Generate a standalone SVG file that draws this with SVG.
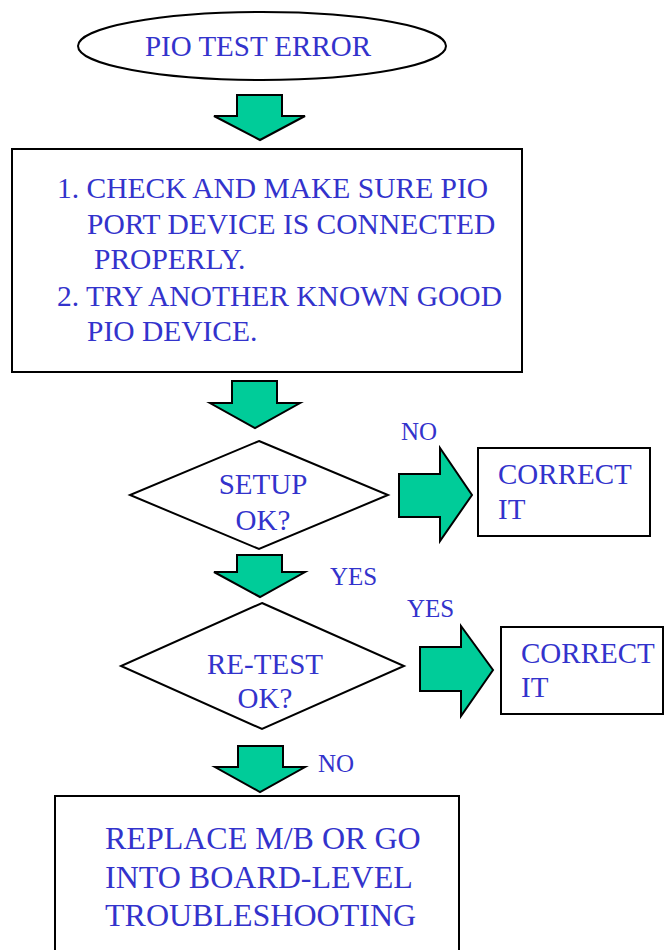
<svg xmlns="http://www.w3.org/2000/svg" width="664" height="950" viewBox="0 0 664 950">
<style>
.t{font-family:"Liberation Serif","Times New Roman",serif;fill:#3333CC;font-size:29px}
.m{font-family:"Liberation Serif","Times New Roman",serif;fill:#3333CC;font-size:29.5px}
.l{font-family:"Liberation Serif","Times New Roman",serif;fill:#3333CC;font-size:25px}
.b{font-family:"Liberation Serif","Times New Roman",serif;fill:#3333CC;font-size:32px}
.s{fill:#FFFFFF;stroke:#000000;stroke-width:2}
.a{fill:#00CC99;stroke:#000000;stroke-width:2;stroke-linejoin:miter}
</style>
<rect width="664" height="950" fill="#FFFFFF"/>
<g id="start">
<ellipse class="s" cx="262" cy="46" rx="184" ry="34"/>
<text class="t" x="258" y="56" text-anchor="middle">PIO TEST ERROR</text>
</g>
<g id="check">
<rect class="s" x="12" y="149" width="510" height="223"/>
<text class="m" x="57" y="198">1. CHECK AND MAKE SURE PIO</text>
<text class="m" x="87" y="234">PORT DEVICE IS CONNECTED</text>
<text class="m" x="94" y="269">PROPERLY.</text>
<text class="m" x="57" y="306">2. TRY ANOTHER KNOWN GOOD</text>
<text class="m" x="87" y="341">PIO DEVICE.</text>
</g>
<g id="setup">
<polygon class="s" points="259,441 388,495 259,549 130,495" stroke-width="1.5"/>
<text class="t" x="263" y="494" text-anchor="middle">SETUP</text>
<text class="t" x="263" y="530" text-anchor="middle">OK?</text>
</g>
<g id="correct1">
<rect class="s" x="478" y="448" width="172" height="88"/>
<text class="t" x="498" y="484">CORRECT</text>
<text class="t" x="498" y="519">IT</text>
</g>
<g id="retest">
<polygon class="s" points="262,603 404,666 262,729 121,666" stroke-width="1.5"/>
<text class="t" x="265" y="674" text-anchor="middle">RE-TEST</text>
<text class="t" x="265" y="708" text-anchor="middle">OK?</text>
</g>
<g id="correct2">
<rect class="s" x="501" y="627" width="162" height="87"/>
<text class="t" x="521" y="663">CORRECT</text>
<text class="t" x="521" y="697">IT</text>
</g>
<g id="replace">
<rect class="s" x="55" y="796" width="404" height="160"/>
<text class="b" x="105" y="849">REPLACE M/B OR GO</text>
<text class="b" x="105" y="888">INTO BOARD-LEVEL</text>
<text class="b" x="105" y="926">TROUBLESHOOTING</text>
</g>
<g id="connectors">
<polygon class="a" points="237,95 282,95 282,116 305,116 260,140 214,116 237,116"/>
<polygon class="a" points="232,381 277,381 277,403 300,403 255,428 210,403 232,403"/>
<polygon class="a" points="399,474 440,474 440,448 472,495 440,541 440,517 399,517"/>
<polygon class="a" points="237,555 282,555 282,572 305,572 260,597 214,572 237,572"/>
<polygon class="a" points="420,647 461,647 461,626 493,670 461,716 461,691 420,691"/>
<polygon class="a" points="238,746 283,746 283,767 305,767 260,792 215,767 238,767"/>
<text class="l" x="401" y="440">NO</text>
<text class="l" x="330" y="585">YES</text>
<text class="l" x="407" y="617">YES</text>
<text class="l" x="318" y="772">NO</text>
</g>
</svg>
